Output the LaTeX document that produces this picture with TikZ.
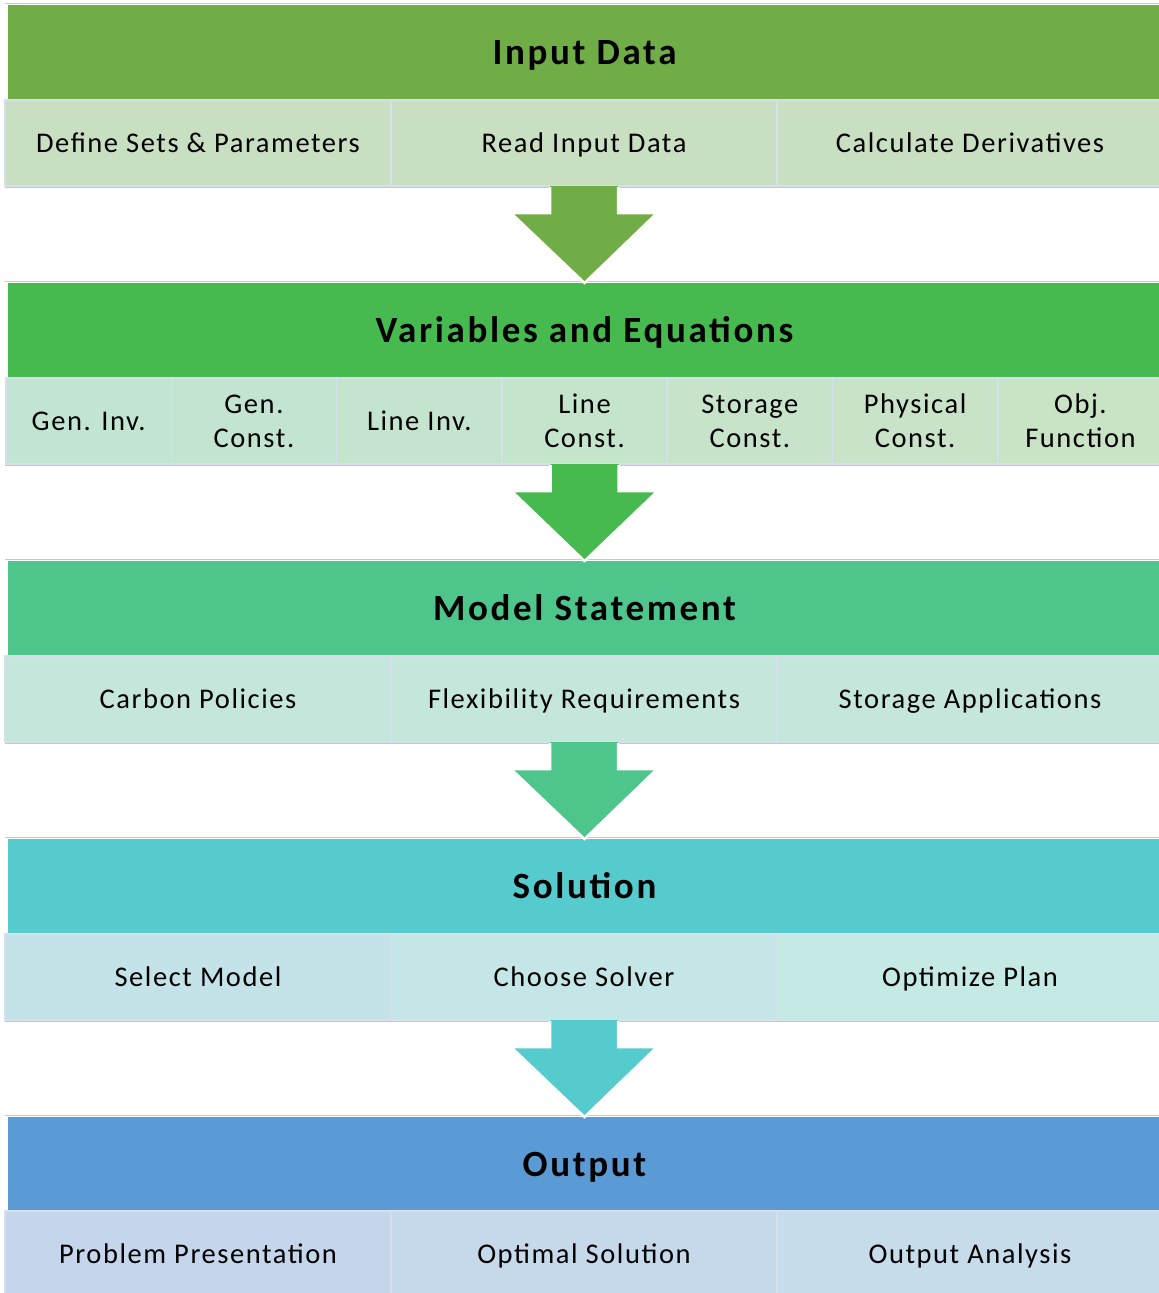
\documentclass[tikz,border=0pt]{standalone}
\usepackage{fontspec}
\setmainfont{Carlito}
\newfontfamily\titlefont[LetterSpace=7.2]{Carlito}
\newfontfamily\cellfont[LetterSpace=5.5]{Carlito}
\usetikzlibrary{calc}

\definecolor{hdrA}{HTML}{70AD47}
\definecolor{hdrB}{HTML}{47BA4F}
\definecolor{hdrC}{HTML}{4EC58B}
\definecolor{hdrD}{HTML}{55CBCD}
\definecolor{hdrE}{HTML}{5B9BD5}
\definecolor{subA}{HTML}{C9DFC1}
\definecolor{subBl}{HTML}{C2E4D3}
\definecolor{subBr}{HTML}{C9E3C5}
\definecolor{subC}{HTML}{C4E6DB}
\definecolor{subDl}{HTML}{C4E3E9}
\definecolor{subDr}{HTML}{C5E9E5}
\definecolor{subEl}{HTML}{C5D5EB}
\definecolor{subEr}{HTML}{C6DCEB}
\definecolor{cellline}{HTML}{D6DFEC}
\definecolor{rule}{HTML}{C8C8C8}

\tikzset{
  hdr/.style={rectangle, anchor=north west, inner sep=0pt, outer sep=0pt,
    minimum width=1153pt, minimum height=95pt,
    text height=28pt, text depth=4pt,
    font=\titlefont\fontsize{37}{42}\selectfont\bfseries, text=black},
  cell/.style={rectangle, anchor=north west, inner sep=0pt, outer sep=0pt,
    draw=cellline, line width=1.5pt, minimum height=86pt, align=center,
    font=\cellfont\fontsize{28.5}{34}\selectfont, text=black},
  oneline/.style={text height=22pt, text depth=4pt},
  wide/.style={cell, oneline, minimum width=386pt},
  narrow/.style={cell, minimum width=165.3pt},
  rulel/.style={rule, line width=1pt},
}

% block arrow from the bottom of a cell to the top of the next header
\newcommand\blockarrow[3]{%
  \fill[#3] ($(#1.south)+(-34,0)$) -- ($(#1.south)+(-34,27)$) -- ($(#1.south)+(-73,27)$)
    -- (#2.north) -- ($(#1.south)+(73,27)$) -- ($(#1.south)+(34,27)$) -- ($(#1.south)+(34,0)$) -- cycle;
  \draw[white, line width=2.5pt, line join=miter]
    ($(#1.south)+(-34,1)$) -- ($(#1.south)+(-34,27)$) -- ($(#1.south)+(-73,27)$)
    -- (#2.north) -- ($(#1.south)+(73,27)$) -- ($(#1.south)+(34,27)$) -- ($(#1.south)+(34,1)$);
}

\begin{document}
\begin{tikzpicture}[x=1pt, y=-1pt]
\useasboundingbox (0,0) rectangle (1159,1293);
\fill[white] (0,0) rectangle (1159,1293);

% ---------- Input Data ----------
\draw[rulel] (5,3) -- (1159,3);
\node[hdr, fill=hdrA] (h1) at (8,5) {Input Data};
\node[wide, fill=subA] (a1) at (5,100) {Define Sets \& Parameters};
\node[wide, fill=subA] (a2) at (391,100) {Read Input Data};
\node[wide, fill=subA] (a3) at (777,100) {Calculate Derivatives};
\draw[rulel] (5,187) -- (1159,187);

% ---------- Variables and Equations ----------
\draw[rulel] (5,281) -- (1159,281);
\node[hdr, fill=hdrB] (h2) at (8,283) {Variables and Equations};
\node[narrow, oneline, fill=subBl] (b1) at (6,378) {Gen. Inv.};
\node[narrow, fill=subBl!83!subBr] (b2) at (171.3,378) {Gen.\\Const.};
\node[narrow, oneline, fill=subBl!67!subBr] (b3) at (336.6,378) {Line Inv.};
\node[narrow, fill=subBl!50!subBr] (b4) at (501.9,378) {Line\\Const.};
\node[narrow, fill=subBl!33!subBr] (b5) at (667.2,378) {Storage\\Const.};
\node[narrow, fill=subBl!17!subBr] (b6) at (832.5,378) {Physical\\Const.};
\node[narrow, fill=subBr] (b7) at (997.8,378) {Obj.\\Function};
\draw[rulel] (5,465) -- (1159,465);

% ---------- Model Statement ----------
\draw[rulel] (5,559) -- (1159,559);
\node[hdr, fill=hdrC] (h3) at (8,561) {Model Statement};
\node[wide, fill=subC] (c1) at (5,656) {Carbon Policies};
\node[wide, fill=subC] (c2) at (391,656) {Flexibility Requirements};
\node[wide, fill=subC] (c3) at (777,656) {Storage Applications};
\draw[rulel] (5,743) -- (1159,743);

% ---------- Solution ----------
\draw[rulel] (5,837) -- (1159,837);
\node[hdr, fill=hdrD] (h4) at (8,839) {Solution};
\node[wide, fill=subDl] (d1) at (5,934) {Select Model};
\node[wide, fill=subDl!50!subDr] (d2) at (391,934) {Choose Solver};
\node[wide, fill=subDr] (d3) at (777,934) {Optimize Plan};
\draw[rulel] (5,1021) -- (1159,1021);

% ---------- Output ----------
\draw[rulel] (5,1115) -- (1159,1115);
\node[hdr, fill=hdrE, minimum height=94pt] (h5) at (8,1117) {Output};
\node[wide, fill=subEl] (e1) at (5,1211) {Problem Presentation};
\node[wide, fill=subEl!50!subEr] (e2) at (391,1211) {Optimal Solution};
\node[wide, fill=subEr] (e3) at (777,1211) {Output Analysis};

% ---------- arrows between stages ----------
\blockarrow{a2}{h2}{hdrA}
\blockarrow{b4}{h3}{hdrB}
\blockarrow{c2}{h4}{hdrC}
\blockarrow{d2}{h5}{hdrD}
\end{tikzpicture}
\end{document}
